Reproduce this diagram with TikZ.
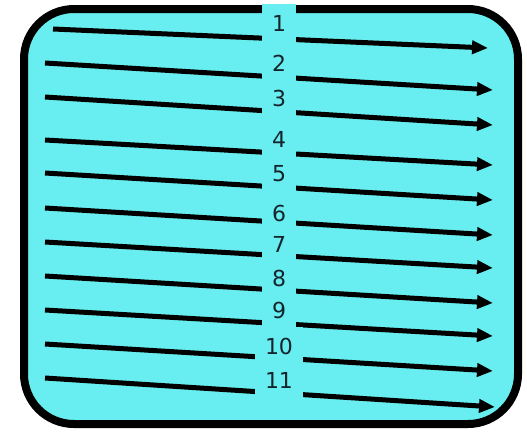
\documentclass[tikz,border=0pt]{standalone}
\usepackage{fontspec}
\newfontfamily\numfont{DejaVu Sans}
\usetikzlibrary{arrows.meta}
\definecolor{tank}{RGB}{104,238,240}
\definecolor{ink}{RGB}{20,36,44}

\begin{document}
\begin{tikzpicture}[x=1pt,y=-1pt,line width=5pt,
	arrow/.style={-{Triangle[length=16pt,width=13pt]}},
	num/.style={fill=tank,text=ink,inner xsep=10pt,inner ysep=0pt,minimum height=39pt,font={\numfont\fontsize{22}{22}\selectfont}}]
	
	\useasboundingbox (0,0) rectangle (527,432);
	\draw[line width=8pt,fill=tank,rounded corners=50pt] (24,9) rectangle (518,424);
	
	\foreach \i/\xa/\ya/\xb/\yb in {1/53/29/488/48, 2/45/63/493/90, 3/45/97/493/125,
		4/45/140/493/165, 5/45/173/493/200, 6/45/208/493/235, 7/45/242/493/268,
		8/45/276/493/303, 9/45/310/493/336, 10/45/344/493/371, 11/45/378/495/407}{
		\coordinate (s\i) at (\xa,\ya);
		\coordinate (t\i) at (\xb,\yb);
		\path[arrow] (s\i) edge (t\i);
	};
	
	\foreach \i/\yl in {1/23, 2/63, 3/98, 4/139, 5/174, 6/213, 7/244, 8/278, 9/310, 10/346, 11/380}{
		\node at (279,\yl) [num] (n\i) {\i};
	};
\end{tikzpicture}
\end{document}
